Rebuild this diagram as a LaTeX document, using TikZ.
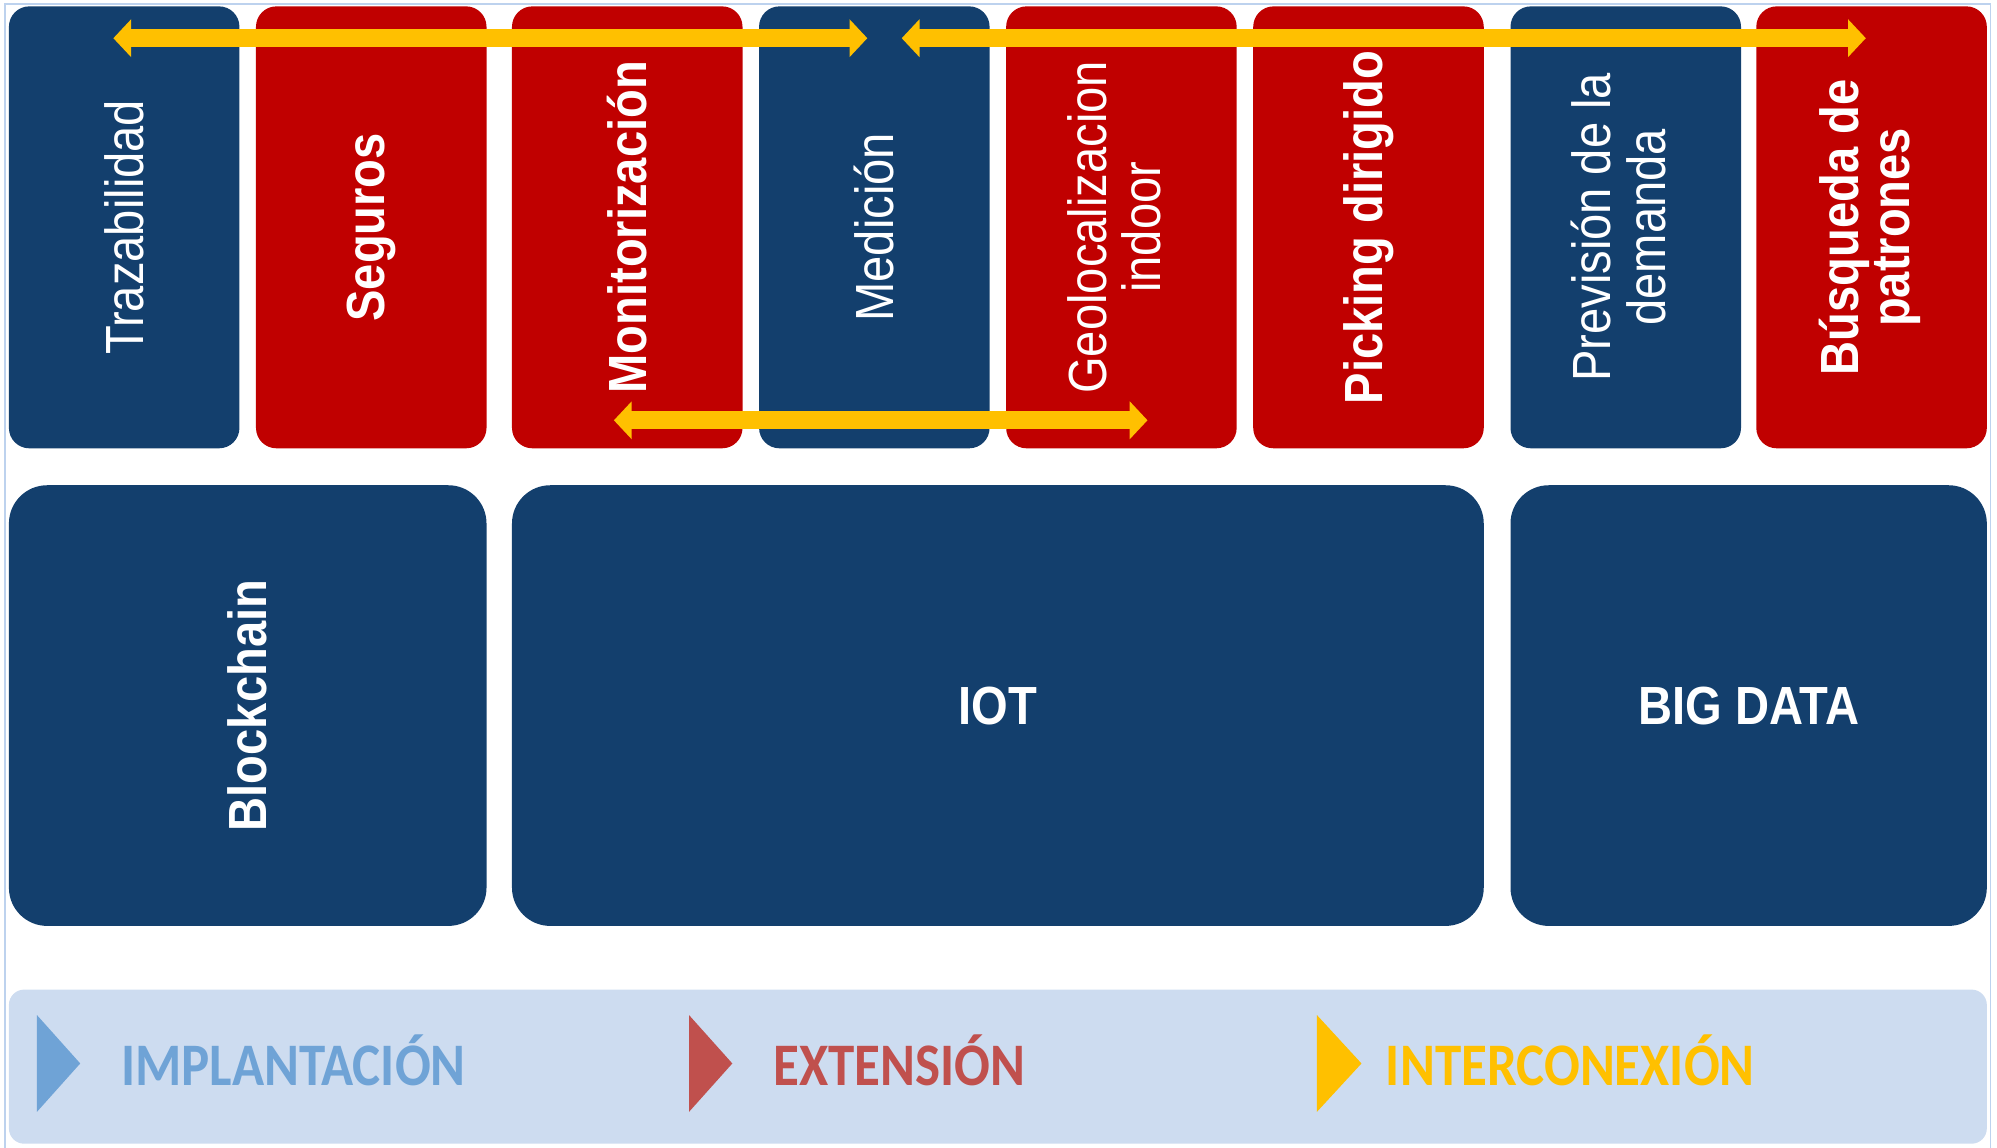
\documentclass[tikz,border=0pt]{standalone}
\usepackage{fontspec}
\setmainfont{Liberation Sans}
\newfontfamily\calfont{Carlito}
\usetikzlibrary{arrows.meta}
\definecolor{navy}{HTML}{133F6D}
\definecolor{dred}{HTML}{C00000}
\definecolor{gold}{HTML}{FFC000}
\definecolor{barblue}{HTML}{CDDCF0}
\definecolor{lblue}{HTML}{6FA3D6}
\definecolor{lred}{HTML}{C0504D}
\definecolor{framec}{HTML}{BDD2EE}
\newcommand\stx[1]{\scalebox{1}[1.14]{#1}}
\newcommand\stt[2]{\scalebox{1}[1.14]{\begin{tabular}{@{}c@{}}#1\\#2\end{tabular}}}
\begin{document}
\begin{tikzpicture}[x=1pt,y=-1pt,
  topbox/.style={rounded corners=16pt, rotate=90, minimum width=347pt, minimum height=181pt,
    inner sep=0pt, text=white, align=center, font=\fontsize{37}{35}\selectfont},
  rowbox/.style={rounded corners=30pt, fill=navy, minimum height=346pt,
    inner sep=0pt, text=white, font=\bfseries\fontsize{37}{35}\selectfont},
  yarrow/.style={gold, line width=14pt, {Triangle[length=14pt,width=29pt]}-{Triangle[length=14pt,width=29pt]}},
  leg/.style={anchor=base west, inner sep=0pt, font=\calfont\bfseries\fontsize{41.6}{41}\selectfont}
]
\useasboundingbox (0,0) rectangle (1568,901);
\draw[framec, line width=1.2pt] (4,3) rectangle (1563,903);

% top row
\node[topbox, fill=navy] (t1) at (97.5,178.5) {\stx{Trazabilidad}};
\node[topbox, fill=dred, font=\bfseries\fontsize{37}{35}\selectfont] (t2) at (291.5,178.5) {\stx{Seguros}};
\node[topbox, fill=dred, font=\bfseries\fontsize{37}{35}\selectfont] (t3) at (492.5,178.5) {\stx{Monitorización}};
\node[topbox, fill=navy] (t4) at (686.5,178.5) {\stx{Medición}};
\node[topbox, fill=dred] (t5) at (880.5,178.5) {\stt{Geolocalizacion}{indoor}};
\node[topbox, fill=dred, font=\bfseries\fontsize{37}{35}\selectfont] (t6) at (1074.5,178.5) {\stx{Picking dirigido}};
\node[topbox, fill=navy] (t7) at (1276.5,178.5) {\stt{Previsión de la}{demanda}};
\node[topbox, fill=dred, font=\bfseries\fontsize{37}{35}\selectfont] (t8) at (1469.5,178.5) {\stt{Búsqueda de}{patrones}};

% second row
\node[rowbox, rotate=90, minimum width=346pt, minimum height=375pt] (r1) at (194.5,554) {\stx{Blockchain}};
\node[rowbox, minimum width=763pt] (r2) at (783.5,554) {\stx{IOT}};
\node[rowbox, minimum width=374pt] (r3) at (1373,554) {\stx{BIG DATA}};

% arrows
\coordinate (a1l) at (89,30);
\coordinate (a1r) at (681,30);
\coordinate (a2l) at (708,30);
\coordinate (a2r) at (1465,30);
\coordinate (a3l) at (482,330);
\coordinate (a3r) at (901,330);
\draw[yarrow] (a1l) -- (a1r);
\draw[yarrow] (a2l) -- (a2r);
\draw[yarrow] (a3l) -- (a3r);

% legend bar
\node[fill=barblue, rounded corners=12pt, minimum width=1553pt, minimum height=121pt, inner sep=0pt] (bar) at (783.5,837.5) {};
\fill[lblue] (29,797) -- (63,835) -- (29,873) -- cycle;
\fill[lred] (541,797) -- (575,835) -- (541,873) -- cycle;
\fill[gold] (1034,797) -- (1069,835) -- (1034,873) -- cycle;
\node[leg, text=lblue] (l1) at (95,852) {\stx{IMPLANTACIÓN}};
\node[leg, text=lred] (l2) at (607,852) {\stx{EXTENSIÓN}};
\node[leg, text=gold] (l3) at (1088,852) {\stx{INTERCONEXIÓN}};
\end{tikzpicture}
\end{document}
